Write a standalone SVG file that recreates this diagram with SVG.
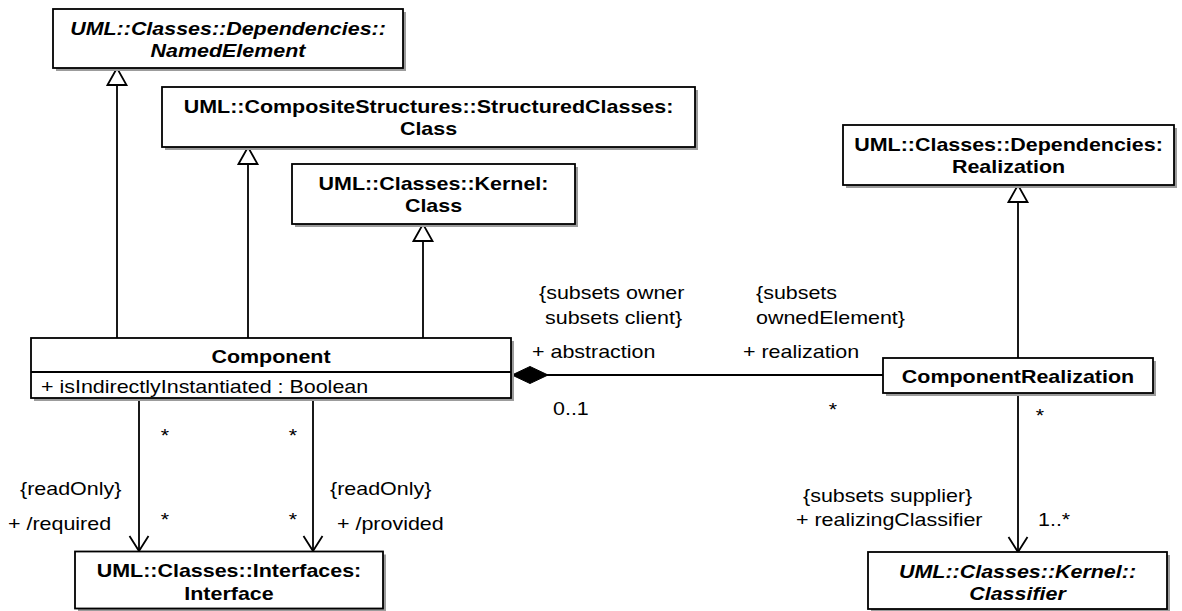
<svg xmlns="http://www.w3.org/2000/svg" width="1182" height="611" viewBox="0 0 1182 611">
<style>
.box{fill:#fff;stroke:#000;stroke-width:1.8}
.sh{fill:#9c9c9c}
.t{font-family:"Liberation Sans",Arial,sans-serif;font-size:18.5px;fill:#000}
.b{font-weight:bold}
.i{font-style:italic}
.m{text-anchor:middle}
.ln{fill:none;stroke:#000;stroke-width:1.8}
</style>
<defs>
<marker id="gen" markerUnits="userSpaceOnUse" viewBox="-1 -1 19 21" markerWidth="19" markerHeight="21" refX="17" refY="9.5" orient="auto" overflow="visible">
<path d="M0,0 L17,9.5 L0,19 Z" fill="#fff" stroke="#000" stroke-width="1.8"/>
</marker>
<marker id="open" markerUnits="userSpaceOnUse" viewBox="-1 -1 17 21" markerWidth="17" markerHeight="21" refX="15" refY="9.5" orient="auto" overflow="visible">
<path d="M0,0 L15,9.5 L0,19" fill="none" stroke="#000" stroke-width="1.8"/>
</marker>
<marker id="dia" markerUnits="userSpaceOnUse" viewBox="0 -1 37 19" markerWidth="37" markerHeight="19" refX="0" refY="8.5" orient="auto" overflow="visible">
<path d="M0,8.5 L18,0 L36,8.5 L18,17 Z" fill="#000" stroke="#000" stroke-width="1"/>
</marker>
</defs>

<g id="connectors">
<path class="ln" d="M117,338 V68" marker-end="url(#gen)"/>
<path class="ln" d="M248,338 V147" marker-end="url(#gen)"/>
<path class="ln" d="M423,338 V224" marker-end="url(#gen)"/>
<path class="ln" d="M1018,358 V185" marker-end="url(#gen)"/>
<path class="ln" d="M139,398 V551" marker-end="url(#open)"/>
<path class="ln" d="M313,398 V551" marker-end="url(#open)"/>
<path class="ln" d="M1018,393 V552" marker-end="url(#open)"/>
<path class="ln" d="M512,375 H883" marker-start="url(#dia)"/>
<g class="t">
<text transform="matrix(1.16 0 0 1 539 299)">{subsets owner</text>
<text transform="matrix(1.16 0 0 1 545 324)">subsets client}</text>
<text transform="matrix(1.16 0 0 1 532 358)">+ abstraction</text>
<text transform="matrix(1.16 0 0 1 553 415)">0..1</text>
<text transform="matrix(1.16 0 0 1 756 299)">{subsets</text>
<text transform="matrix(1.16 0 0 1 756 324)">ownedElement}</text>
<text transform="matrix(1.16 0 0 1 743 358)">+ realization</text>
<text class="m" transform="matrix(1.16 0 0 1 833 416)">*</text>
<text class="m" transform="matrix(1.16 0 0 1 1040 422)">*</text>
<text transform="matrix(1.16 0 0 1 803 502)">{subsets supplier}</text>
<text transform="matrix(1.16 0 0 1 796 526)">+ realizingClassifier</text>
<text transform="matrix(1.16 0 0 1 1038 526)">1..*</text>
<text class="m" transform="matrix(1.16 0 0 1 165 442)">*</text>
<text class="m" transform="matrix(1.16 0 0 1 165 526)">*</text>
<text class="m" transform="matrix(1.16 0 0 1 293 442)">*</text>
<text class="m" transform="matrix(1.16 0 0 1 293 526)">*</text>
<text transform="matrix(1.16 0 0 1 20 495)">{readOnly}</text>
<text transform="matrix(1.16 0 0 1 330 495)">{readOnly}</text>
<text transform="matrix(1.16 0 0 1 8 530)">+ /required</text>
<text transform="matrix(1.16 0 0 1 337 530)">+ /provided</text>
</g>
</g>

<g id="NamedElement">
<rect class="sh" x="56" y="12" width="350" height="59"/>
<rect class="box" x="53" y="9" width="350" height="59"/>
<text class="t b i m" transform="matrix(1.16 0 0 1 228 34.5)">UML::Classes::Dependencies::</text>
<text class="t b i m" transform="matrix(1.16 0 0 1 228 57)">NamedElement</text>
</g>

<g id="StructuredClass">
<rect class="sh" x="165" y="90" width="533" height="60"/>
<rect class="box" x="162" y="87" width="533" height="60"/>
<text class="t b m" transform="matrix(1.16 0 0 1 428.5 112.5)">UML::CompositeStructures::StructuredClasses:</text>
<text class="t b m" transform="matrix(1.16 0 0 1 428.5 135)">Class</text>
</g>

<g id="KernelClass">
<rect class="sh" x="295" y="167" width="283" height="60"/>
<rect class="box" x="292" y="164" width="283" height="60"/>
<text class="t b m" transform="matrix(1.16 0 0 1 433.5 189.5)">UML::Classes::Kernel:</text>
<text class="t b m" transform="matrix(1.16 0 0 1 433.5 212)">Class</text>
</g>

<g id="Realization">
<rect class="sh" x="846" y="128" width="331" height="60"/>
<rect class="box" x="843" y="125" width="331" height="60"/>
<text class="t b m" transform="matrix(1.16 0 0 1 1008.5 150.5)">UML::Classes::Dependencies:</text>
<text class="t b m" transform="matrix(1.16 0 0 1 1008.5 173)">Realization</text>
</g>

<g id="Component">
<rect class="sh" x="34" y="341" width="480" height="60"/>
<rect class="box" x="31" y="338" width="480" height="60"/>
<line class="ln" x1="31" y1="372" x2="511" y2="372"/>
<text class="t b m" transform="matrix(1.16 0 0 1 271 363)">Component</text>
<text class="t" transform="matrix(1.16 0 0 1 41 393)">+ isIndirectlyInstantiated : Boolean</text>
</g>

<g id="ComponentRealization">
<rect class="sh" x="886" y="361" width="270" height="35"/>
<rect class="box" x="883" y="358" width="270" height="35"/>
<text class="t b m" transform="matrix(1.16 0 0 1 1018 383)">ComponentRealization</text>
</g>

<g id="Interface">
<rect class="sh" x="78" y="554.5" width="308" height="57"/>
<rect class="box" x="75" y="551.5" width="308" height="57"/>
<text class="t b m" transform="matrix(1.16 0 0 1 229 577)">UML::Classes::Interfaces:</text>
<text class="t b m" transform="matrix(1.16 0 0 1 229 599.5)">Interface</text>
</g>

<g id="Classifier">
<rect class="sh" x="871" y="555" width="299" height="57"/>
<rect class="box" x="868" y="552" width="299" height="57"/>
<text class="t b i m" transform="matrix(1.16 0 0 1 1017.5 577.5)">UML::Classes::Kernel::</text>
<text class="t b i m" transform="matrix(1.16 0 0 1 1017.5 600)">Classifier</text>
</g>
</svg>
